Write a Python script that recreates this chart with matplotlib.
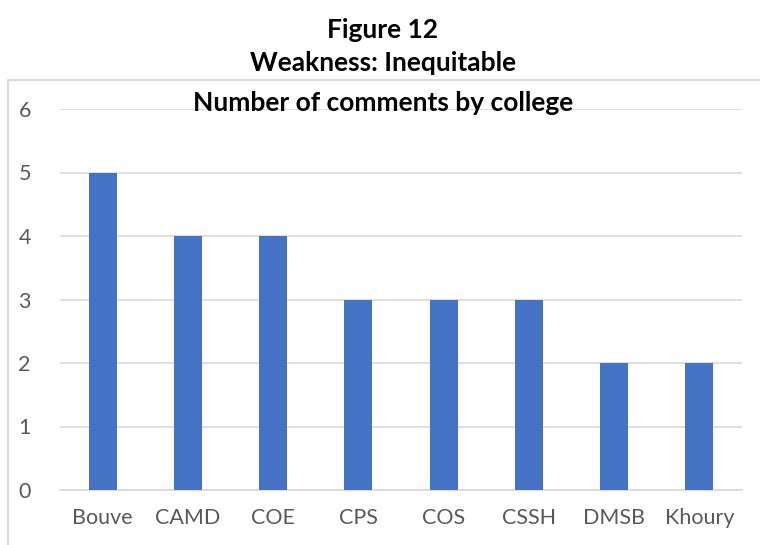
import matplotlib.pyplot as plt
from matplotlib.lines import Line2D

# comments per college
colleges = ["Bouve", "CAMD", "COE", "CPS", "COS", "CSSH", "DMSB", "Khoury"]
comments = [5, 4, 4, 3, 3, 3, 2, 2]

W, H = 760, 545
fig = plt.figure(figsize=(W / 100, H / 100), dpi=100)
plt.rcParams['font.family'] = ['Lato', 'DejaVu Sans']

# plot area in pixel coordinates
left, right, top, bottom = 60, 742, 109, 490
ax = fig.add_axes([left / W, 1 - bottom / H, (right - left) / W, (bottom - top) / H])

ax.bar(range(len(colleges)), comments, width=0.33, color="#4472C4", zorder=3)

ax.set_xlim(-0.5, len(colleges) - 0.5)
ax.set_ylim(0, 6)
ax.set_yticks(range(0, 7))
ax.set_xticks(range(len(colleges)))
ax.set_xticklabels(colleges)

ax.yaxis.grid(True, color="#D9D9D9", linewidth=1.2, zorder=0)
ax.tick_params(axis="both", length=0, labelsize=15.5, labelcolor="#595959")
ax.tick_params(axis="y", pad=21)
ax.tick_params(axis="x", pad=13)
for s in ["top", "right", "left"]:
    ax.spines[s].set_visible(False)
ax.spines["bottom"].set_color("#D9D9D9")
ax.spines["bottom"].set_linewidth(1.2)

# chart frame (left and top edges)
fig.add_artist(Line2D([8 / W, 8 / W, 1.0], [0.0, 1 - 80 / H, 1 - 80 / H],
                      transform=fig.transFigure, color="#D9D9D9", linewidth=1.5))

cx = 383 / W
fig.text(cx, 1 - 30 / H, "Figure 12", ha="center", va="center",
         fontsize=19, fontweight="bold")
fig.text(cx, 1 - 63 / H, "Weakness: Inequitable", ha="center", va="center",
         fontsize=19, fontweight="bold")
fig.text(cx, 1 - 103 / H, "Number of comments by college", ha="center", va="center",
         fontsize=19, fontweight="bold")

fig.savefig("out.png", dpi=100)
